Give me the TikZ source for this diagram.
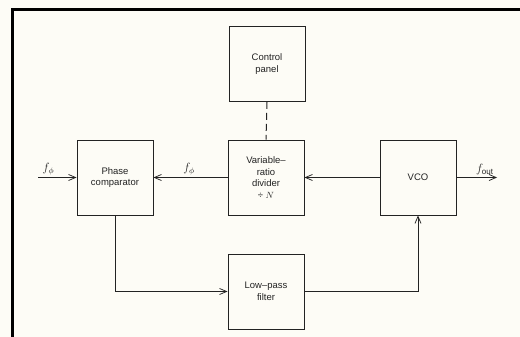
\documentclass[tikz,border=0pt]{standalone}
\usepackage{amsmath,amssymb}
\usepackage{fontspec}
\setmainfont{Liberation Sans}
\usepackage{tikz}
\usetikzlibrary{arrows.meta,positioning,calc}
\usepackage{xcolor}
\definecolor{paper}{RGB}{253,252,246}
\definecolor{ink}{RGB}{35,35,35}

\begin{document}
\begin{tikzpicture}[x=1pt, y=-1pt,
    block/.style={draw=ink, text=ink, line width=0.95pt, minimum width=76pt, minimum height=75pt,
        align=center, font=\fontsize{9.5}{11.5}\selectfont, inner sep=0pt},
    sig/.style={draw=ink, line width=0.95pt, -{Straight Barb[length=7pt, width=6pt, line width=0.75pt]}},
    lbl/.style={above, text=ink, font=\large, inner sep=2pt}]
    % Page and frame
    \fill[paper] (0,0) rectangle (520,337);
    \useasboundingbox (0,0) rectangle (520,337);
    \fill[black] (11,8) rectangle (520,11);
    \fill[black] (11,8) rectangle (14,337);
    % Blocks
    \node[block] (ctrl) at (267,64) {Control\\panel};
    \node[block] (phase) at (115,177.5) {Phase\\comparator};
    \node[block] (divider) at (266,177.5) {Variable--\\ratio\\divider\\÷ $N$};
    \node[block] (vco) at (418,177.5) {VCO};
    \node[block] (lpf) at (266,291.5) {Low--pass\\filter};
    % Free ends
    \coordinate (fin) at (38,177.5);
    \coordinate (fout) at (497,177.5);
    % Signals
    \draw[sig] (fin) -- node[lbl, pos=0.27] {$f_{\phi}$} (phase.west);
    \draw[sig] (divider.west) -- node[lbl, pos=0.52] {$f_{\phi}$} (phase.east);
    \draw[sig] (vco.west) -- (divider.east);
    \draw[sig] (vco.east) -- node[lbl, pos=0.7] {$f_{\text{out}}$} (fout);
    \draw[sig] (phase.south) |- (lpf.west);
    \draw[sig] (lpf.east) -| (vco.south);
    % Control link
    \draw[ink, line width=1pt, dash pattern=on 7pt off 4pt] (ctrl.south) -- (divider.north);
\end{tikzpicture}
\end{document}
